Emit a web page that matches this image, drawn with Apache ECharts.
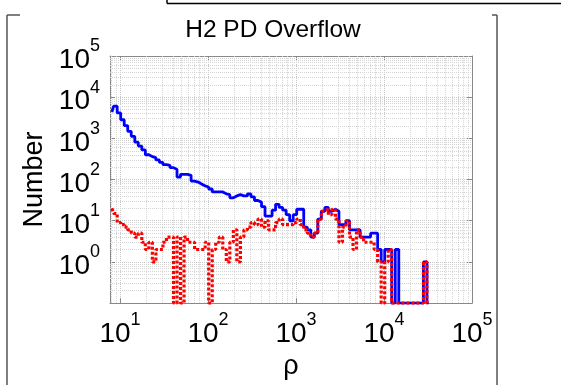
<!DOCTYPE html>
<html><head><meta charset="utf-8">
<script src="https://cdn.jsdelivr.net/npm/echarts@6/dist/echarts.min.js"></script>
<style>html,body{margin:0;padding:0;background:#fff}#c{width:561px;height:385px}</style>
</head><body><div id="c"></div>
<script>
// bin centres (rho), log-spaced
const rho = [8.09,8.87,9.73,10.67,11.69,12.82,14.06,15.42,16.90,18.54,20.32,22.28,24.43,26.79,29.38,32.21,35.32,38.73,42.46,46.56,
51.05,55.98,61.38,67.30,73.79,80.91,88.72,97.28,106.7,116.9,128.2,140.6,154.2,169.0,185.4,203.2,222.8,244.3,267.9,293.8,
322.1,353.2,387.3,424.6,465.6,510.5,559.8,613.8,673.0,737.9,809.1,887.2,972.8,1067,1169,1282,1406,1542,1690,1854,
2032,2228,2443,2679,2938,3221,3532,3873,4246,4656,5105,5598,6138,6730,7379,8091,8872,9727,10670,11690,
12820,14060,15420,16900,18540,20320,22280,24430,26790,29380,32210];
// blue histogram counts
const blueCounts = [4370,6060,4150,2830,2050,1480,1120,810,650,525,400,360,340,300,260,230,220,195,175,115,
134,134,127,92,87,78,70,66,59,50,50,50,45,43,36,40,43,40,40,45,
38,31,28,22,13,13,18,25,21,18,14,10,14,19,19,7,6,4,5,11,
17,21,17,19,17,8,8,10,6,6,6,4,4,4,5,5,2,1,2,2,
0,2,0,0,0,0,0,0,0,1,0];
// red histogram counts
const redCounts = [20,15,9,8,7,6,5,4,5,3,2,3,1,2,2,3,4,4,0,4,
0,4,3,3,2,2,2,3,0,2,3,4,2,1,3,6,1,4,6,7,
9,8,11,7,10,6,6,9,11,8,8,8,9,11,8,6,5,4,5,11,
17,19,14,19,11,3,7,10,4,2,6,4,3,3,3,2,1,0,1,2,
0,0,0,0,0,0,0,0,0,1,0];
const xTickExps = [1,2,3,4,5];
const yTickExps = [0,1,2,3,4,5];
const titleText = 'H2 PD Overflow';
const xName = 'ρ';
const yName = 'Number';

const X_MIN = 7.7, X_MAX = 1e5, Y_MIN = 0.1, Y_MAX = 1e5;
const FONT = 'Liberation Sans, Arial, Helvetica, sans-serif';

function toPairs(counts){ return rho.map((r,i)=>[r, counts[i] > 0 ? counts[i] : Y_MIN]); }
function expOf(v){ const e = Math.log10(v); const r = Math.round(e); return Math.abs(e-r) < 1e-6 ? r : null; }
function fmt(allowed){ return function(v){ const e = expOf(v); return (e!==null && allowed.indexOf(e)>=0) ? '{b|10}{s|'+e+'}' : ''; }; }
const rich = {
  b:{fontSize:28, fontFamily:FONT, color:'#000', verticalAlign:'bottom', lineHeight:28},
  s:{fontSize:18, fontFamily:FONT, color:'#000', verticalAlign:'bottom', padding:[0,0,19,0]}
};
// minor grid positions (2..9 x 10^k)
const minorX = [], minorY = [];
for (let k=-1;k<5;k++) for (let m=2;m<10;m++){ const v=m*Math.pow(10,k); if(v>X_MIN && v<X_MAX) minorX.push(v); if(v>Y_MIN && v<Y_MAX) minorY.push(v); }

const gridLine = {show:true, lineStyle:{color:'#c8c8c8', type:'dotted', width:1}};
const chart = echarts.init(document.getElementById('c'), null, {renderer:'canvas'});
chart.setOption({
  animation:false,
  backgroundColor:'#fff',
  title:{text:titleText, left:268, top:13, textAlign:'center', textStyle:{fontFamily:FONT, fontSize:24.5, fontWeight:'normal', color:'#000'}},
  grid:{left:110, right:89, top:56, bottom:75},
  xAxis:[{type:'log', min:X_MIN, max:X_MAX, splitNumber:5,
    axisLine:{lineStyle:{color:'#888'}}, axisTick:{inside:true, length:5, lineStyle:{color:'#888'}},
    axisLabel:{formatter:fmt(xTickExps), rich:rich, margin:8, showMinLabel:true, showMaxLabel:true},
    splitLine:gridLine,
    name:xName, nameLocation:'middle', nameGap:49, nameTextStyle:{fontFamily:FONT, fontSize:27, color:'#000'}},
   {type:'log', min:X_MIN, max:X_MAX, splitNumber:5, position:'top',
    axisLine:{lineStyle:{color:'#888'}}, axisTick:{inside:true, length:5, lineStyle:{color:'#888'}}, axisLabel:{show:false}, splitLine:{show:false}}],
  yAxis:[{type:'log', min:Y_MIN, max:Y_MAX, splitNumber:6,
    axisLine:{show:true, lineStyle:{color:'#888'}}, axisTick:{show:true, inside:true, length:5, lineStyle:{color:'#888'}},
    axisLabel:{formatter:fmt(yTickExps), rich:rich, margin:10, showMinLabel:true, showMaxLabel:true},
    splitLine:gridLine,
    name:yName, nameLocation:'middle', nameGap:56, nameTextStyle:{fontFamily:FONT, fontSize:27, color:'#000'}},
   {type:'log', min:Y_MIN, max:Y_MAX, splitNumber:6, position:'right',
    axisLine:{show:true, lineStyle:{color:'#888'}}, axisTick:{show:true, inside:true, length:5, lineStyle:{color:'#888'}}, axisLabel:{show:false}, splitLine:{show:false}}],
  series:[
    {type:'line', data:[], silent:true, z:1,
     markLine:{z:1, silent:true, symbol:'none', animation:false, label:{show:false},
       lineStyle:{color:'#d4d4d4', type:'dotted', width:1},
       data: minorX.map(v=>({xAxis:v})).concat(minorY.map(v=>({yAxis:v})))}},
    {type:'line', name:'blue', data:toPairs(blueCounts), step:'middle', showSymbol:false, z:8,
     lineStyle:{color:'#0000ff', width:2.8}},
    {type:'line', name:'red', data:toPairs(redCounts), step:'middle', showSymbol:false, z:9,
     lineStyle:{color:'#ff0000', width:3.2, type:[3,2]}}
  ],
  graphic:[
    {type:'line', shape:{x1:7,y1:15,x2:7,y2:385}, style:{stroke:'#555', lineWidth:1.5}},
    {type:'line', shape:{x1:7,y1:15,x2:20,y2:15}, style:{stroke:'#555', lineWidth:1.5}},
    {type:'line', shape:{x1:492,y1:15,x2:497,y2:15}, style:{stroke:'#555', lineWidth:1.5}},
    {type:'line', shape:{x1:497,y1:15,x2:497,y2:385}, style:{stroke:'#555', lineWidth:1.5}},
    {type:'line', shape:{x1:167,y1:0,x2:167,y2:3.5}, style:{stroke:'#000', lineWidth:1.5}},
    {type:'line', shape:{x1:167,y1:3.5,x2:561,y2:3.5}, style:{stroke:'#000', lineWidth:1.5}}
  ]
});
</script></body></html>
